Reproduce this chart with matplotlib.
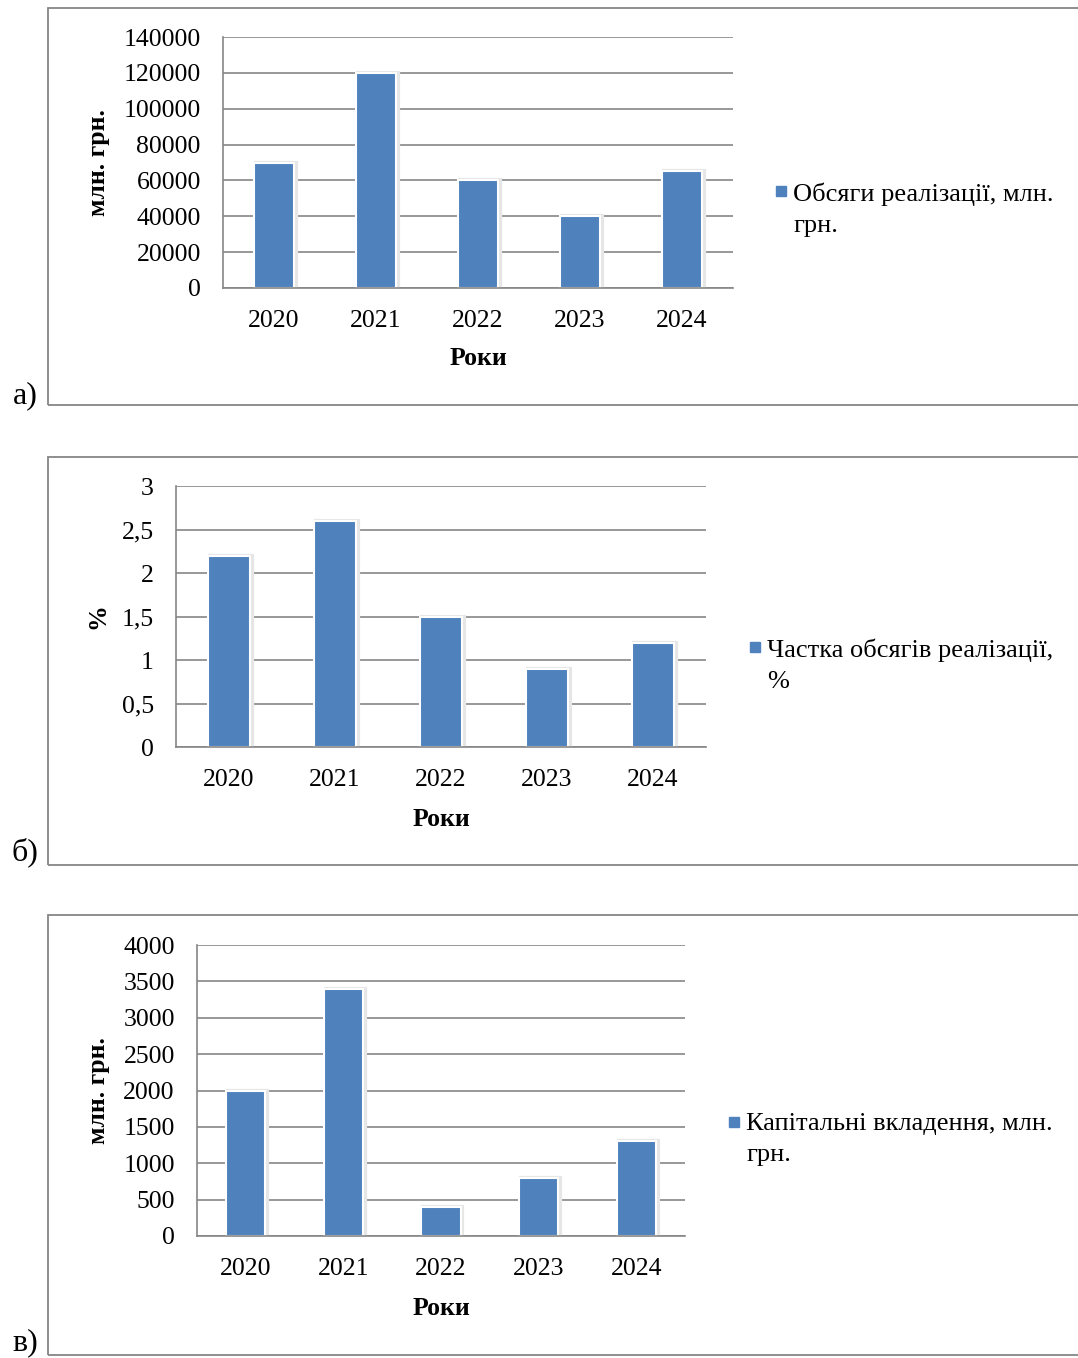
import matplotlib
matplotlib.use('Agg')
import matplotlib.pyplot as plt
from matplotlib.patches import Rectangle
import numpy as np

# data
years = ['2020', '2021', '2022', '2023', '2024']
sales = [70000, 120000, 60000, 40000, 65000]
share = [2.2, 2.6, 1.5, 0.9, 1.2]
capex = [2000, 3400, 400, 800, 1300]

sales_ticks = [0, 20000, 40000, 60000, 80000, 100000, 120000, 140000]
share_ticks = [0, 0.5, 1, 1.5, 2, 2.5, 3]
share_tick_labels = ['0', '0,5', '1', '1,5', '2', '2,5', '3']
capex_ticks = [0, 500, 1000, 1500, 2000, 2500, 3000, 3500, 4000]

plt.rcParams['font.family'] = ['Liberation Serif', 'DejaVu Serif']
plt.rcParams['font.size'] = 18

W, H = 1078, 1358
fig = plt.figure(figsize=(W / 100, H / 100), dpi=100)

blue = '#4F81BD'
grid = '#868686'


def fx(px):
    return px / W


def fy(py):
    return 1 - py / H


def panel(box, axpos, values, ticks, ticklabels, ylabel, ylab_x, xlab_y,
          legend_text, legend_xy, letter, letter_y):
    # outer frame of the panel
    x0, y0, x1, y1 = box
    fig.patches.append(Rectangle((fx(x0), fy(y1)), 1.05, fy(y0) - fy(y1),
                                 transform=fig.transFigure, fill=False,
                                 edgecolor=grid, linewidth=1.3))
    fig.text(fx(25), fy(letter_y), letter, ha='center', va='baseline',
             fontsize=23)

    l, t, r, b = axpos
    ax = fig.add_axes([fx(l), fy(b), fx(r) - fx(l), fy(t) - fy(b)])
    x = np.arange(len(years))
    # soft shadow behind the bars, then the bars with a white rim
    ax.bar(x + 0.02, values, width=0.4, color='#dcdcdc', edgecolor='#e6e6e6',
           linewidth=3, zorder=2)
    ax.bar(x, values, width=0.4, color=blue, edgecolor='white',
           linewidth=1.5, zorder=3)

    ax.set_xlim(-0.5, len(years) - 0.5)
    ax.set_ylim(ticks[0], ticks[-1])
    ax.set_yticks(ticks)
    ax.set_yticklabels(ticklabels)
    ax.set_xticks(x)
    ax.set_xticklabels(years)
    ax.tick_params(length=0, labelsize=18.5)
    ax.tick_params(axis='y', pad=16)
    ax.tick_params(axis='x', pad=16)
    ax.yaxis.grid(True, color=grid, linewidth=1.2, zorder=1)
    ax.set_axisbelow(True)
    for s in ['top', 'right']:
        ax.spines[s].set_visible(False)
    for s in ['left', 'bottom']:
        ax.spines[s].set_color(grid)
        ax.spines[s].set_linewidth(1.2)
        ax.spines[s].set_zorder(4)

    ax.set_xlabel('Роки', fontweight='bold', fontsize=18.5)
    ax.xaxis.set_label_coords(0.5, xlab_y)
    ax.set_ylabel(ylabel, fontweight='bold', fontsize=18.5)
    ax.yaxis.set_label_coords(ylab_x, 0.5)

    # legend: small square and a two-line label
    lx, ly = legend_xy
    fig.patches.append(Rectangle((fx(lx), fy(ly + 10)), fx(10), 10 / H,
                                 transform=fig.transFigure, color=blue))
    fig.text(fx(lx + 17), fy(ly - 4), legend_text, ha='left', va='top',
             fontsize=19, linespacing=1.55)
    return ax


panel((48, 8, 1078, 405), (223, 37, 733, 288), sales, sales_ticks,
      [str(v) for v in sales_ticks], 'млн. грн.', -0.222, -0.235,
      'Обсяги реалізації, млн.\nгрн.', (776, 186), 'а)', 403)

panel((48, 457, 1078, 865), (176, 486, 706, 747), share, share_ticks,
      share_tick_labels, '%', -0.125, -0.234,
      'Частка обсягів реалізації,\n%', (750, 642), 'б)', 860)

panel((48, 915, 1078, 1355), (197, 945, 685, 1236), capex, capex_ticks,
      [str(v) for v in capex_ticks], 'млн. грн.', -0.178, -0.21,
      'Капітальні вкладення, млн.\nгрн.', (729, 1117), 'в)', 1350)

fig.savefig('out.png', dpi=100, facecolor='white')
